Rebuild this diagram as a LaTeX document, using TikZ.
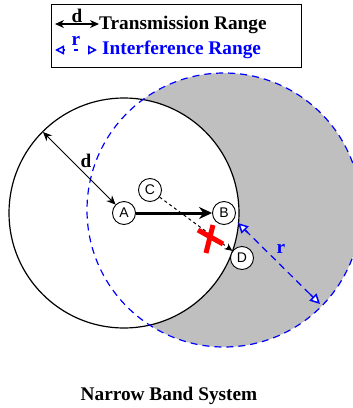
\documentclass[tikz,border=0pt]{standalone}
\usepackage{fontspec}
\setmainfont{Liberation Serif}
\setsansfont{Liberation Sans}
\usetikzlibrary{arrows.meta,calc}
\definecolor{shadeclr}{RGB}{191,191,191}
\definecolor{intfclr}{RGB}{0,0,255}
\definecolor{blockclr}{RGB}{255,0,0}

\begin{document}
\begin{tikzpicture}[x=1pt,y=-1pt,
  station/.style={circle, draw, line width=0.9pt, fill=white, inner sep=0pt,
    minimum size=23pt, font=\fontsize{14}{14}\sffamily},
  lbl/.style={font=\fontsize{19.3}{23}\selectfont\bfseries, inner sep=0pt},
  intfline/.style={intfclr, line width=1.2pt, dash pattern=on 7pt off 5pt},
  opentip/.style={intfclr, line width=1.5pt, -{Triangle[length=#1,width=#1,fill=white,line width=1.5pt]}}]

\useasboundingbox (0,0) rectangle (353,408);

% Interference region round B, transmission region round A
\fill[shadeclr] (224,210) circle[radius=137pt];
\fill[white] (124,213) circle[radius=115pt];
\draw[line width=1.2pt] (124,213) circle[radius=115pt];
\draw[intfline] (224,210) circle[radius=137pt];

% Stations
\node[station] (A) at (124,213) {A};
\node[station] (B) at (224,213) {B};
\node[station] (C) at (150,190) {C};
\node[station] (D) at (242,258) {D};

% Range d of A
\coordinate (dend) at (43,132);
\draw[{Stealth[length=9pt,width=8pt]}-{Stealth[length=9pt,width=8pt]}, line width=1pt] (dend) -- (A);
\node[lbl] (dlbl) at (86,161) {d};

% C to D, blocked
\draw[dashed, -{Stealth[length=8pt,width=7pt]}, line width=1pt] (C) -- (D);
\coordinate (xmark) at (210,238);
\draw[blockclr, line width=5pt] ($(xmark)+(3,-13)$) -- ($(xmark)+(-4,15)$);
\draw[blockclr, line width=5pt] ($(xmark)+(-12,-8)$) -- ($(xmark)+(13,6)$);

% A to B
\draw[-{Stealth[length=13pt,width=12pt]}, line width=3pt] (A) -- (B);

% Range r
\coordinate (rstart) at (238,223);
\coordinate (rend) at (320,304);
\draw[intfline, shorten <=10pt, shorten >=10pt] (rstart) -- (rend);
\draw[opentip=10pt] ($(rstart)!14pt!(rend)$) -- (rstart);
\draw[opentip=10pt] ($(rend)!14pt!(rstart)$) -- (rend);
\node[lbl, text=intfclr] (rlbl) at (281,249) {r};

% Legend
\node[draw, line width=1.8pt, minimum width=250pt, minimum height=63pt, inner sep=0pt] (legend) at (176.5,36) {};
\coordinate (tleft) at (55,24);
\coordinate (tright) at (99,24);
\draw[{Stealth[length=9pt,width=8pt]}-{Stealth[length=9pt,width=8pt]}, line width=1.3pt] (tleft) -- (tright)
  node[lbl, midway, above=1pt] (tdlbl) {d};
\node[lbl, anchor=base west] (trange) at (99,29) {Transmission Range};
\coordinate (ileft) at (55,50);
\coordinate (iright) at (97,50);
\draw[intfclr, line width=1.3pt] ($(ileft)!0.45!(iright)$) -- ($(ileft)!0.55!(iright)$)
  node[lbl, midway, above=4pt, text=intfclr] (irlbl) {r};
\draw[opentip=9pt] ($(ileft)!9pt!(iright)$) -- (ileft);
\draw[opentip=9pt] ($(iright)!9pt!(ileft)$) -- (iright);
\node[lbl, anchor=base west, text=intfclr] (irange) at (102,54) {Interference Range};

% Caption
\node[lbl] (caption) at (169,396) {Narrow Band System};

\end{tikzpicture}
\end{document}
